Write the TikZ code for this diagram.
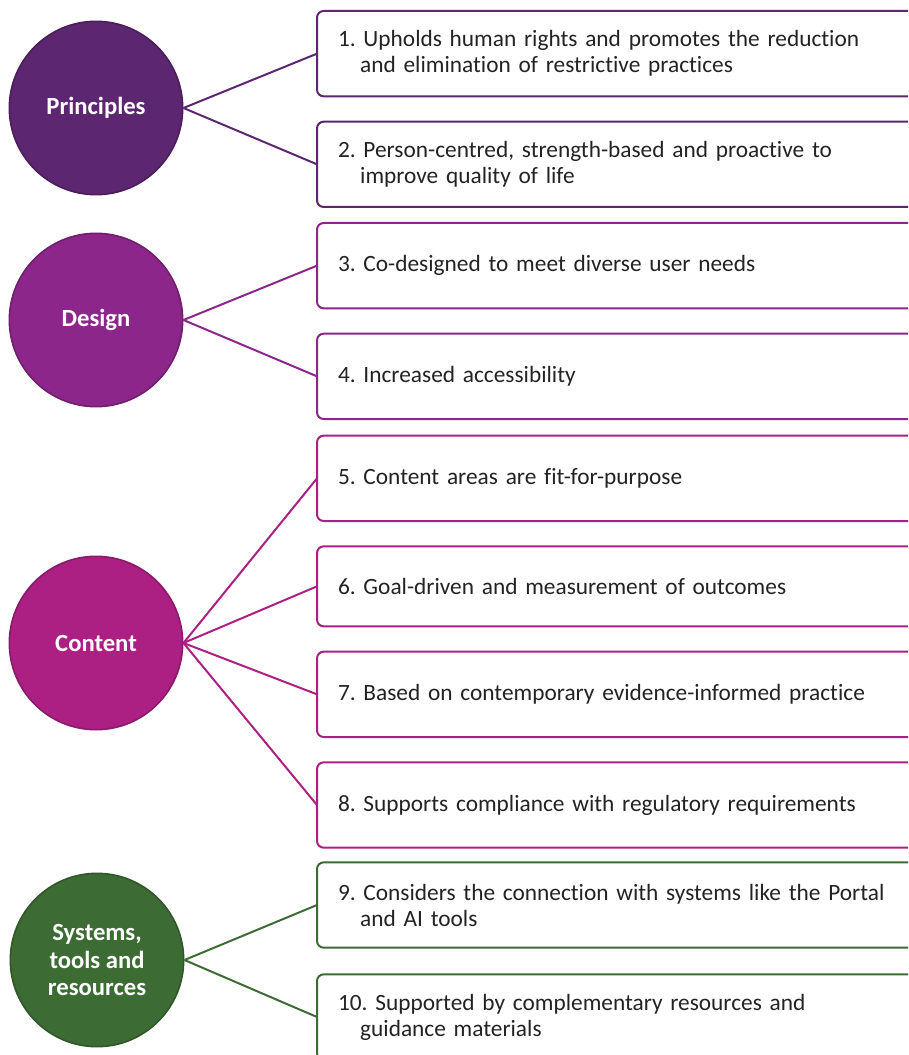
\documentclass[tikz,border=0pt]{standalone}
\usepackage{fontspec}
\setmainfont{Carlito}[Ligatures=NoCommon]
\usetikzlibrary{positioning}

\definecolor{prinpurple}{RGB}{92,38,112}
\definecolor{designpurple}{RGB}{140,38,138}
\definecolor{contentpink}{RGB}{172,32,132}
\definecolor{sysgreen}{RGB}{60,108,52}
\definecolor{bodytext}{RGB}{35,35,35}

\newcommand{\hangline}{\hspace*{0.95em}}
\frenchspacing

\begin{document}
\begin{tikzpicture}[
    x=0.75pt, y=-0.75pt,
    node distance=19pt,
    every node/.style={font=\fontsize{17.5}{19.5}\selectfont},
    hub/.style={circle, fill=#1, draw=#1!80!black, line width=1.2pt, minimum size=130pt,
        inner sep=0pt, text=white, align=center, font=\fontsize{18.5}{20.5}\selectfont\bfseries},
    item/.style={draw=#1, line width=1.5pt, rounded corners=5pt, fill=white, minimum height=64pt,
        outer sep=0pt, text width=435pt, inner xsep=15.75pt, align=left, text=bodytext},
    link/.style={draw=#1, line width=1.5pt}
]

% page size, boxes run off the right and bottom edge
\useasboundingbox (0,0) rectangle (908,1055);
\clip (0,0) rectangle (908,1055);

% Groups
\node[hub=prinpurple] (principles) at (96,108) {Principles};
\node[hub=designpurple] (design) at (96,320) {Design};
\node[hub=contentpink] (content) at (96,643) {Content};
\node[hub=sysgreen] (systems) at (97,960) {Systems,\\tools and\\resources};

% Items
\node[item=prinpurple, anchor=north west] (b1) at (317,11)
    {1. Upholds human rights and promotes the reduction\\\hangline and elimination of restrictive practices};
\node[item=prinpurple, below=19pt of b1] (b2)
    {2. Person-centred, strength-based and proactive to\\\hangline improve quality of life};

\node[item=designpurple, below=12pt of b2] (b3) {3. Co-designed to meet diverse user needs};
\node[item=designpurple, below=19pt of b3] (b4) {4. Increased accessibility};

\node[item=contentpink, below=12.5pt of b4] (b5) {5. Content areas are fit-for-purpose};
\node[item=contentpink, below=19pt of b5, minimum height=60pt] (b6) {6. Goal-driven and measurement of outcomes};
\node[item=contentpink, below=19pt of b6] (b7) {7. Based on contemporary evidence-informed practice};
\node[item=contentpink, below=19pt of b7] (b8) {8. Supports compliance with regulatory requirements};

\node[item=sysgreen, below=11pt of b8] (b9)
    {9. Considers the connection with systems like the Portal\\\hangline and AI tools};
\node[item=sysgreen, below=20pt of b9] (b10)
    {10. Supported by complementary resources and\\\hangline guidance materials};

% Links
\draw[link=prinpurple] (principles.east) -- (b1.west);
\draw[link=prinpurple] (principles.east) -- (b2.west);
\draw[link=designpurple] (design.east) -- (b3.west);
\draw[link=designpurple] (design.east) -- (b4.west);
\draw[link=contentpink] (content.east) -- (b5.west);
\draw[link=contentpink] (content.east) -- (b6.west);
\draw[link=contentpink] (content.east) -- (b7.west);
\draw[link=contentpink] (content.east) -- (b8.west);
\draw[link=sysgreen] (systems.east) -- (b9.west);
\draw[link=sysgreen] (systems.east) -- (b10.west);

\end{tikzpicture}
\end{document}
